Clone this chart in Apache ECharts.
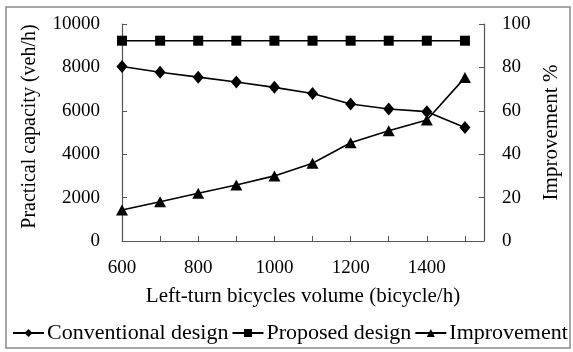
<!DOCTYPE html>
<html>
<head>
<meta charset="utf-8">
<script src="https://cdn.jsdelivr.net/npm/echarts@6/dist/echarts.min.js"></script>
<style>html,body{margin:0;padding:0;background:#fff}#c{width:573px;height:352px}</style>
</head>
<body>
<div id="c"></div>
<script>
const volumes = [600, 700, 800, 900, 1000, 1100, 1200, 1300, 1400, 1500];
const conventional = [8040, 7780, 7550, 7330, 7080, 6800, 6310, 6080, 5960, 5230];
const proposed = [9230, 9230, 9230, 9230, 9230, 9230, 9230, 9230, 9230, 9230];
const improvement = [14.3, 18.1, 22.0, 25.8, 30.0, 35.8, 45.3, 50.8, 55.8, 75.3];
const seriesNames = ['Conventional design', 'Proposed design', 'Improvement'];

const font = 'Liberation Serif';
const pair = arr => arr.map((v, i) => [volumes[i], v]);
const chart = echarts.init(document.getElementById('c'));
const lineStyle = {color: '#000', width: 1.6};
chart.setOption({
  animation: false,
  textStyle: {fontFamily: font, color: '#000'},
  graphic: [{type: 'rect', shape: {x: 6, y: 7, width: 564, height: 341},
    style: {fill: 'none', stroke: '#8a8a8a', lineWidth: 1.5}}],
  grid: {left: 122, right: 89, top: 24, bottom: 111},
  legend: {
    left: 7, top: 317, itemGap: 3, itemWidth: 31, itemHeight: 10, padding: 5,
    textStyle: {fontFamily: font, fontSize: 22, color: '#000', padding: [0, 0, 0, -2]},
    data: seriesNames
  },
  xAxis: {
    type: 'value', min: 600, max: 1550, interval: 100,
    axisLine: {lineStyle: {color: '#555', width: 1.2}},
    axisTick: {inside: true, length: 5, lineStyle: {color: '#555'}},
    splitLine: {show: false},
    axisLabel: {fontFamily: font, fontSize: 19, color: '#000', margin: 18,
      formatter: v => (v % 200 === 0 && v <= 1400) ? String(v) : ''},
    name: 'Left-turn bicycles volume (bicycle/h)', nameLocation: 'middle', nameGap: 45,
    nameTextStyle: {fontFamily: font, fontSize: 21, color: '#000'}
  },
  yAxis: [{
    type: 'value', min: 0, max: 10000, interval: 2000,
    axisLine: {show: true, lineStyle: {color: '#555', width: 1.2}},
    axisTick: {show: true, inside: true, length: 5, lineStyle: {color: '#555'}},
    splitLine: {show: false},
    axisLabel: {fontFamily: font, fontSize: 19, color: '#000', margin: 22, formatter: v => String(v)},
    name: 'Practical capacity (veh/h)', nameLocation: 'middle', nameGap: 82,
    nameTextStyle: {fontFamily: font, fontSize: 20, color: '#000', padding: [0, 0, 0, 12]}
  }, {
    type: 'value', min: 0, max: 100, interval: 20, position: 'right',
    axisLine: {show: true, lineStyle: {color: '#555', width: 1.2}},
    axisTick: {show: true, inside: true, length: 5, lineStyle: {color: '#555'}},
    splitLine: {show: false},
    axisLabel: {fontFamily: font, fontSize: 19, color: '#000', margin: 18},
    name: 'Improvement %', nameLocation: 'middle', nameGap: 54,
    nameTextStyle: {fontFamily: font, fontSize: 21, color: '#000'}
  }],
  series: [
    {name: seriesNames[0], type: 'line', data: pair(conventional), yAxisIndex: 0,
      symbol: 'diamond', symbolSize: [11, 13], lineStyle, itemStyle: {color: '#000'}},
    {name: seriesNames[1], type: 'line', data: pair(proposed), yAxisIndex: 0,
      symbol: 'rect', symbolSize: 10, lineStyle, itemStyle: {color: '#000'}},
    {name: seriesNames[2], type: 'line', data: pair(improvement), yAxisIndex: 1,
      symbol: 'triangle', symbolSize: [12, 11], lineStyle, itemStyle: {color: '#000'}}
  ]
});
</script>
</body>
</html>
